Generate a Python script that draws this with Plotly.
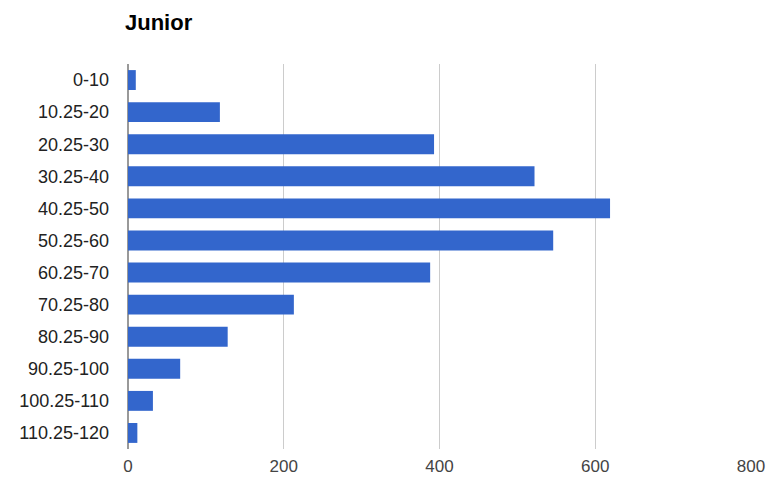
import plotly.graph_objects as go

categories = ["0-10", "10.25-20", "20.25-30", "30.25-40", "40.25-50", "50.25-60",
              "60.25-70", "70.25-80", "80.25-90", "90.25-100", "100.25-110", "110.25-120"]
values = [10, 118, 393, 522, 619, 546, 388, 213, 128, 67, 32, 12]
x_ticks = [0, 200, 400, 600, 800]
title_text = "Junior"

fig = go.Figure(go.Bar(
    x=values, y=categories, orientation="h",
    marker=dict(color="#3366cc", line=dict(width=0)),
))

fig.update_layout(
    width=768, height=480,
    margin=dict(l=128, r=17, t=64, b=31),
    paper_bgcolor="white", plot_bgcolor="white",
    bargap=0.38,
    showlegend=False,
    font=dict(family="Liberation Sans, Arial, sans-serif", size=18, color="#222222"),
    title=dict(text="<b>" + title_text + "</b>", xref="container", yref="container",
               x=125 / 768, xanchor="left", y=1 - 22 / 480, yanchor="middle",
               font=dict(size=22, color="#000000")),
)
fig.update_xaxes(
    range=[0, 800], tickvals=x_ticks, ticktext=[str(v) for v in x_ticks],
    showgrid=True, gridcolor="#cccccc", gridwidth=1,
    zeroline=True, zerolinecolor="#999999", zerolinewidth=2,
    showline=False, ticks="", ticklabelstandoff=5, automargin=False,
    tickfont=dict(size=17, color="#444444"),
)
fig.update_yaxes(
    categoryorder="array", categoryarray=categories, autorange="reversed",
    showgrid=False, ticks="", ticklabelstandoff=18, automargin=False,
    tickfont=dict(size=18, color="#222222"),
)

fig.write_html("out.html")
